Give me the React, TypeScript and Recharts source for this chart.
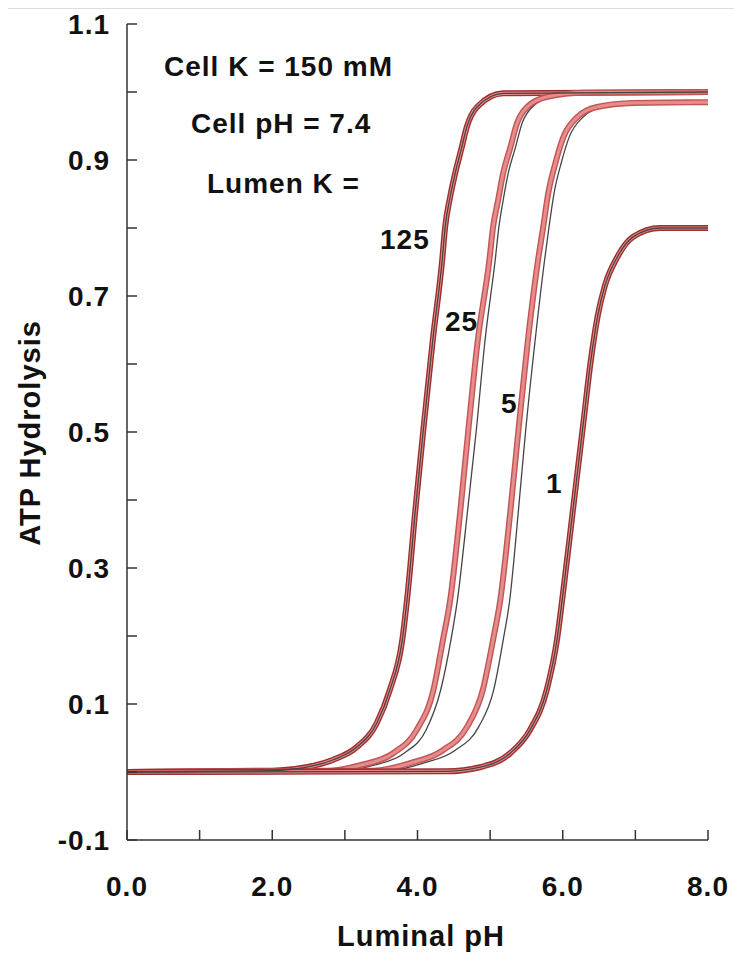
import React from 'react';
import { LineChart, Line, XAxis, YAxis } from 'recharts';

// tick values
const xTicks = [0, 1, 2, 3, 4, 5, 6, 7, 8];
const yTicks = [-0.1, 0, 0.1, 0.2, 0.3, 0.4, 0.5, 0.6, 0.7, 0.8, 0.9, 1.0, 1.1];

const lumenK125 = [
  { x: 0, y: 0 }, { x: 2.0, y: 0.002 }, { x: 2.6, y: 0.01 }, { x: 2.84, y: 0.018 },
  { x: 3.17, y: 0.037 }, { x: 3.44, y: 0.072 }, { x: 3.62, y: 0.121 }, { x: 3.79, y: 0.194 },
  { x: 3.87, y: 0.268 }, { x: 3.97, y: 0.385 }, { x: 4.08, y: 0.503 }, { x: 4.21, y: 0.635 },
  { x: 4.34, y: 0.753 }, { x: 4.38, y: 0.801 }, { x: 4.45, y: 0.846 }, { x: 4.52, y: 0.881 },
  { x: 4.61, y: 0.919 }, { x: 4.68, y: 0.949 }, { x: 4.82, y: 0.978 }, { x: 5.18, y: 0.998 },
  { x: 8, y: 1.0 },
];
const lumenK25 = [
  { x: 0, y: 0 }, { x: 2.8, y: 0.002 }, { x: 3.21, y: 0.01 }, { x: 3.67, y: 0.028 },
  { x: 3.99, y: 0.062 }, { x: 4.22, y: 0.121 }, { x: 4.35, y: 0.194 }, { x: 4.45, y: 0.253 },
  { x: 4.59, y: 0.385 }, { x: 4.7, y: 0.503 }, { x: 4.83, y: 0.635 }, { x: 4.99, y: 0.753 },
  { x: 5.04, y: 0.801 }, { x: 5.11, y: 0.841 }, { x: 5.18, y: 0.881 }, { x: 5.28, y: 0.919 },
  { x: 5.37, y: 0.954 }, { x: 5.51, y: 0.978 }, { x: 5.79, y: 0.993 }, { x: 6.3, y: 0.999 },
  { x: 8, y: 1.0 },
];
const lumenK5 = [
  { x: 0, y: 0 }, { x: 3.4, y: 0.002 }, { x: 3.9, y: 0.013 }, { x: 4.35, y: 0.032 },
  { x: 4.68, y: 0.066 }, { x: 4.9, y: 0.121 }, { x: 5.04, y: 0.194 }, { x: 5.14, y: 0.253 },
  { x: 5.28, y: 0.385 }, { x: 5.39, y: 0.503 }, { x: 5.52, y: 0.635 }, { x: 5.66, y: 0.753 },
  { x: 5.73, y: 0.801 }, { x: 5.8, y: 0.851 }, { x: 5.9, y: 0.896 }, { x: 6.01, y: 0.934 },
  { x: 6.2, y: 0.963 }, { x: 6.47, y: 0.978 }, { x: 6.97, y: 0.984 }, { x: 8, y: 0.985 },
];
const lumenK1 = [
  { x: 0, y: 0 }, { x: 4.4, y: 0.001 }, { x: 4.86, y: 0.007 }, { x: 5.28, y: 0.028 },
  { x: 5.55, y: 0.062 }, { x: 5.78, y: 0.121 }, { x: 5.92, y: 0.194 }, { x: 6.0, y: 0.26 },
  { x: 6.14, y: 0.385 }, { x: 6.28, y: 0.51 }, { x: 6.38, y: 0.6 }, { x: 6.48, y: 0.67 },
  { x: 6.58, y: 0.715 }, { x: 6.75, y: 0.757 }, { x: 6.97, y: 0.787 }, { x: 7.34, y: 0.8 },
  { x: 8, y: 0.8 },
];

// thin black model curves that sit just right of the red ones
const model25 = [
  { x: 0, y: 0 }, { x: 3.0, y: 0.002 }, { x: 3.4, y: 0.01 }, { x: 3.82, y: 0.028 },
  { x: 4.12, y: 0.062 }, { x: 4.32, y: 0.121 }, { x: 4.46, y: 0.194 }, { x: 4.55, y: 0.253 },
  { x: 4.69, y: 0.385 }, { x: 4.81, y: 0.503 }, { x: 4.93, y: 0.635 }, { x: 5.07, y: 0.753 },
  { x: 5.12, y: 0.801 }, { x: 5.18, y: 0.841 }, { x: 5.25, y: 0.881 }, { x: 5.35, y: 0.919 },
  { x: 5.44, y: 0.954 }, { x: 5.58, y: 0.978 }, { x: 5.85, y: 0.993 }, { x: 6.4, y: 0.999 },
  { x: 8, y: 1.0 },
];
const model5 = [
  { x: 0, y: 0 }, { x: 3.6, y: 0.002 }, { x: 4.08, y: 0.013 }, { x: 4.52, y: 0.032 },
  { x: 4.84, y: 0.066 }, { x: 5.05, y: 0.121 }, { x: 5.18, y: 0.194 }, { x: 5.27, y: 0.253 },
  { x: 5.39, y: 0.385 }, { x: 5.49, y: 0.503 }, { x: 5.62, y: 0.635 }, { x: 5.75, y: 0.753 },
  { x: 5.81, y: 0.801 }, { x: 5.88, y: 0.851 }, { x: 5.98, y: 0.896 }, { x: 6.09, y: 0.934 },
  { x: 6.28, y: 0.963 }, { x: 6.55, y: 0.978 }, { x: 7.0, y: 0.984 }, { x: 8, y: 0.985 },
];

const FONT = '"Liberation Sans", Arial, Helvetica, sans-serif';
const AXIS = '#333';
const TICK = 10;

const txt = { fontFamily: FONT, fontWeight: 'bold' as const, fontSize: 28, letterSpacing: 1, fill: '#111' };

const BottomTick = (props: any) => {
  const { x, y, index } = props;
  return (
    <g>
      <line x1={x} y1={y} x2={x} y2={y - TICK} stroke={AXIS} strokeWidth={1.5} />
      {index % 2 === 0 && (
        <text x={x} y={y + 56} textAnchor="middle" {...txt}>
          {xTicks[index].toFixed(1)}
        </text>
      )}
    </g>
  );
};

const LeftTick = (props: any) => {
  const { x, y, index } = props;
  return (
    <g>
      <line x1={x} y1={y} x2={x + TICK} y2={y} stroke={AXIS} strokeWidth={1.5} />
      {index % 2 === 0 && (
        <text x={x - 17} y={y} dy="0.35em" textAnchor="end" {...txt}>
          {yTicks[index].toFixed(1)}
        </text>
      )}
    </g>
  );
};

const TopTick = (props: any) => (
  <line x1={props.x} y1={props.y} x2={props.x} y2={props.y + TICK} stroke={AXIS} strokeWidth={1.5} />
);

const RightTick = (props: any) => (
  <line x1={props.x} y1={props.y} x2={props.x - TICK} y2={props.y} stroke={AXIS} strokeWidth={1.5} />
);

const redCurve = (key: string, data: any[], edge: string) => [
  <Line key={key + '-o'} data={data} dataKey="y" xAxisId="b" yAxisId="l" type="monotone"
    stroke={edge} strokeWidth={6} dot={false} activeDot={false} isAnimationActive={false} />,
  <Line key={key + '-i'} data={data} dataKey="y" xAxisId="b" yAxisId="l" type="monotone"
    stroke="#e58c8c" strokeWidth={3.2} dot={false} activeDot={false} isAnimationActive={false} />,
];

const modelCurve = (key: string, data: any[]) => (
  <Line key={key} data={data} dataKey="y" xAxisId="b" yAxisId="l" type="monotone"
    stroke="#444" strokeWidth={1.3} dot={false} activeDot={false} isAnimationActive={false} />
);

export default function App() {
  return (
    <div style={{ position: 'absolute', left: 0, top: 0, width: 734, height: 957, background: '#fff' }}>
      <div style={{ position: 'absolute', left: 8, top: 8, width: 726, borderTop: '1px solid #ddd' }} />
      <LineChart width={734} height={957} margin={{ top: 24, right: 26, bottom: 0, left: 0 }}>
        <XAxis xAxisId="b" type="number" dataKey="x" domain={[0, 8]} ticks={xTicks} interval={0}
          allowDataOverflow height={117} tickSize={0} tickMargin={0} tick={BottomTick}
          axisLine={{ stroke: AXIS, strokeWidth: 1.5 }} />
        <XAxis xAxisId="t" orientation="top" type="number" dataKey="x" domain={[0, 8]} ticks={xTicks} interval={0}
          allowDataOverflow height={0} tickSize={0} tickMargin={0} tick={TopTick}
          axisLine={{ stroke: AXIS, strokeWidth: 1.5 }} />
        <YAxis yAxisId="l" type="number" domain={[-0.1, 1.1]} ticks={yTicks} interval={0}
          allowDataOverflow width={127} tickSize={0} tickMargin={0} tick={LeftTick}
          axisLine={{ stroke: AXIS, strokeWidth: 1.5 }} />
        <YAxis yAxisId="r" orientation="right" type="number" domain={[-0.1, 1.1]} ticks={yTicks} interval={0}
          allowDataOverflow width={0} tickSize={0} tickMargin={0} tick={RightTick}
          axisLine={{ stroke: AXIS, strokeWidth: 1.5 }} />
        {modelCurve('m25', model25)}
        {modelCurve('m5', model5)}
        {redCurve('k125', lumenK125, '#a02c2c')}
        {redCurve('k25', lumenK25, '#c25454')}
        {redCurve('k5', lumenK5, '#c25454')}
        {redCurve('k1', lumenK1, '#a02c2c')}
        {modelCurve('m125', lumenK125)}
        {modelCurve('m1', lumenK1)}
      </LineChart>
      <svg width={734} height={957} style={{ position: 'absolute', left: 0, top: 0, pointerEvents: 'none' }}>
        <text x={164} y={76} {...txt}>Cell K = 150 mM</text>
        <text x={191} y={133} {...txt}>Cell pH = 7.4</text>
        <text x={207} y={193} {...txt}>Lumen K =</text>
        <text x={380} y={249} {...txt}>125</text>
        <text x={445} y={331} {...txt}>25</text>
        <text x={501} y={413} {...txt}>5</text>
        <text x={546} y={493} {...txt}>1</text>
        <text x={421} y={946} textAnchor="middle" {...txt} fontSize={29}>Luminal pH</text>
        <text x={30} y={433} textAnchor="middle" dy="0.35em" transform="rotate(-90 30 433)" {...txt} fontSize={29}>ATP Hydrolysis</text>
      </svg>
    </div>
  );
}
